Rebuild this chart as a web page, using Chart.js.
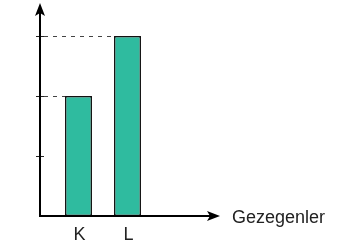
<!DOCTYPE html>
<html>
<head>
<meta charset="utf-8">
<script src="https://cdn.jsdelivr.net/npm/chart.js@4"></script>
<style>
  html, body { margin: 0; padding: 0; background: #fff; }
  #wrap { width: 343px; height: 245px; }
</style>
</head>
<body>
<div id="wrap"><canvas id="chart" width="343" height="245"></canvas></div>
<script>
// ====== DATA ======
const categories = ['K', 'L'];
const values = [2, 3];
const yTicks = [1, 2, 3];
const xTitle = 'Gezegenler';

const BAR_FILL = '#2fbb9f';
const AXIS_X = 40;      // where the drawn y axis sits
const FONT = '18px "Liberation Sans", Arial, sans-serif';

// draws the arrowed axes, tick marks, dashed guides and labels
const axesPlugin = {
  id: 'axes',
  afterDraw(chart) {
    const { ctx, scales } = chart;
    const x0 = AXIS_X;
    const y0 = scales.y.getPixelForValue(0);
    const xEnd = 220;
    const yTop = 3;
    ctx.save();

    // dashed guides from the y axis to the bar tops
    const meta = chart.getDatasetMeta(0);
    ctx.strokeStyle = '#444';
    ctx.lineWidth = 1;
    ctx.setLineDash([4, 5]);
    meta.data.forEach((bar, i) => {
      const py = Math.round(scales.y.getPixelForValue(values[i])) + 0.5;
      ctx.beginPath();
      ctx.moveTo(x0 + 4, py);
      ctx.lineTo(bar.x - bar.width / 2, py);
      ctx.stroke();
    });
    ctx.setLineDash([]);

    // tick marks
    ctx.strokeStyle = '#222';
    yTicks.forEach(v => {
      const py = Math.round(scales.y.getPixelForValue(v)) + 0.5;
      ctx.beginPath();
      ctx.moveTo(x0 - 4, py);
      ctx.lineTo(x0 + 4, py);
      ctx.stroke();
    });

    // axes lines
    ctx.strokeStyle = '#000';
    ctx.lineWidth = 2;
    ctx.beginPath();
    ctx.moveTo(x0, y0);
    ctx.lineTo(x0, yTop + 8);
    ctx.moveTo(x0 - 1, y0);
    ctx.lineTo(xEnd - 8, y0);
    ctx.stroke();

    // arrow heads
    ctx.fillStyle = '#000';
    ctx.beginPath();
    ctx.moveTo(x0, yTop);
    ctx.lineTo(x0 + 5, yTop + 13);
    ctx.lineTo(x0, yTop + 10);
    ctx.lineTo(x0 - 5, yTop + 13);
    ctx.closePath();
    ctx.fill();
    ctx.beginPath();
    ctx.moveTo(xEnd, y0);
    ctx.lineTo(xEnd - 13, y0 - 5);
    ctx.lineTo(xEnd - 10, y0);
    ctx.lineTo(xEnd - 13, y0 + 5);
    ctx.closePath();
    ctx.fill();

    // category labels and axis title
    ctx.font = FONT;
    ctx.fillStyle = '#222';
    ctx.textBaseline = 'alphabetic';
    ctx.textAlign = 'center';
    categories.forEach((c, i) => {
      ctx.fillText(c, scales.x.getPixelForValue(i) + 1, 240);
    });
    ctx.textAlign = 'left';
    ctx.fillText(xTitle, 232, 223);
    ctx.restore();
  }
};

new Chart(document.getElementById('chart'), {
  type: 'bar',
  data: {
    labels: categories,
    datasets: [{
      data: values,
      backgroundColor: BAR_FILL,
      borderColor: '#111',
      borderWidth: 1.5,
      borderSkipped: false,
      barPercentage: 0.55,
      categoryPercentage: 1
    }]
  },
  options: {
    responsive: false,
    animation: false,
    layout: { padding: { left: 54, right: 191, top: 36, bottom: 29 } },
    plugins: { legend: { display: false }, tooltip: { enabled: false } },
    scales: {
      x: { display: false, offset: true },
      y: { display: false, min: 0, max: 3 }
    }
  },
  plugins: [axesPlugin]
});
</script>
</body>
</html>
